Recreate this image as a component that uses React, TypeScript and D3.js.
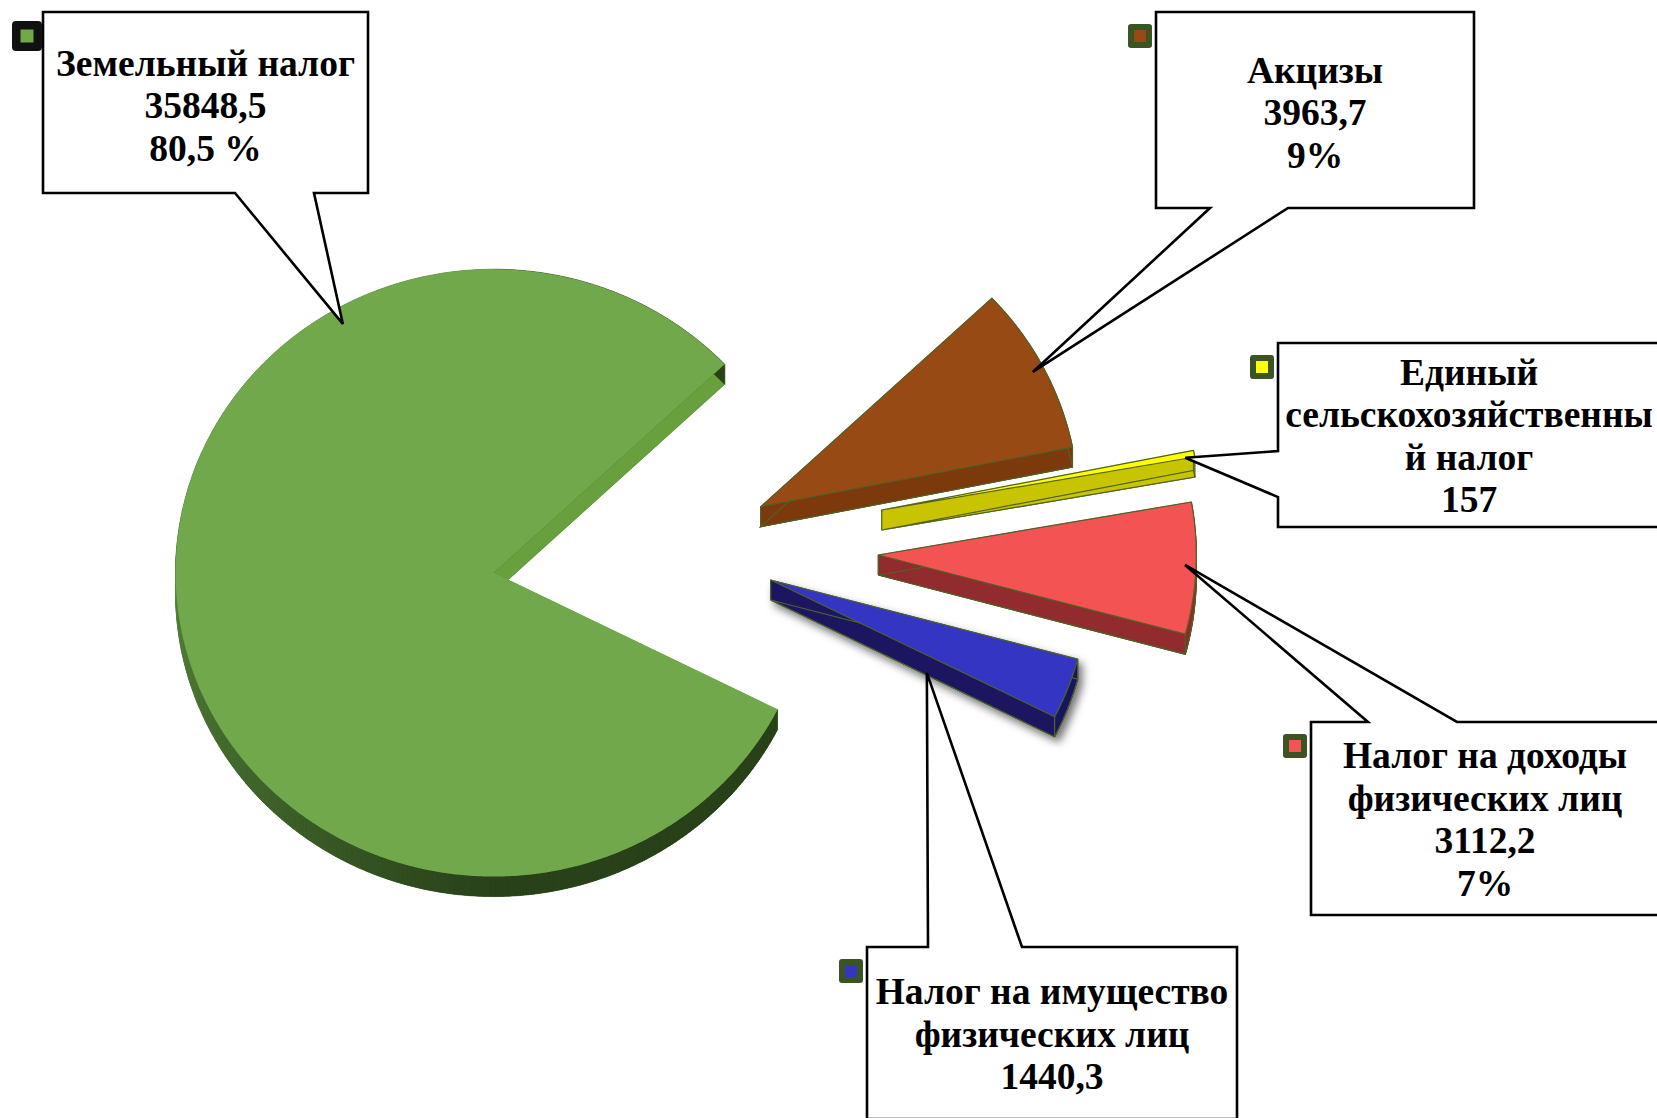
import React from 'react';
import * as d3 from 'd3';

// ---------- DATA ----------
const categories = [
  'Земельный налог',
  'Акцизы',
  'Единый сельскохозяйственный налог',
  'Налог на доходы физических лиц',
  'Налог на имущество физических лиц',
];
const values = [35848.5, 3963.7, 157, 3112.2, 1440.3];
const labelLines = [
  ['Земельный налог', '35848,5', '80,5 %'],
  ['Акцизы', '3963,7', '9%'],
  ['Единый', 'сельскохозяйственны', 'й налог', '157'],
  ['Налог на доходы', 'физических лиц', '3112,2', '7%'],
  ['Налог на имущество', 'физических лиц', '1440,3'],
];

// ---------- STYLE / LAYOUT ----------
const topColors = ['#70A84B', '#974A14', '#FFFF00', '#F35453', '#3535C4'];
const sideColors = ['#2C461C', '#7C390C', '#C8C400', '#922B2E', '#1A1960'];
const W = 1657;
const H = 1118;
const CX = 493.6;
const CY = 572.9;
const R = 318;
const TILT = 0.955;
const DEPTH = 20;
const ROT = (46.63 * Math.PI) / 180; // d3 angle where the first slice ends
const explode: [number, number][] = [[0, 0], [267.1, -66.2], [388.1, -62.9], [384.7, -17.9], [277.1, 7.1]];
// anchor of callout tip on slice: [angle fraction, radius fraction, depth fraction]
const anchors: [number, number, number][] = [
  [0.7355, 0.947, 0],
  [0.498, 0.964, 0],
  [0.88, 0.97, 0],
  [0.477, 0.965, 0],
  [1.0, 0.55, 0.885],
];
type Box = { x0: number; y0: number; x1: number; y1: number; side: string; gap: [number, number] };
const boxes: Box[] = [
  { x0: 43, y0: 12, x1: 368, y1: 193, side: 'bottom', gap: [235, 314] },
  { x0: 1156, y0: 12, x1: 1474, y1: 208, side: 'bottom', gap: [1210, 1288] },
  { x0: 1278, y0: 343, x1: 1660, y1: 527, side: 'left', gap: [451, 497] },
  { x0: 1311, y0: 722, x1: 1659, y1: 915, side: 'top', gap: [1368, 1457] },
  { x0: 867, y0: 947, x1: 1237, y1: 1119, side: 'top', gap: [928, 1022] },
];
const textShift = [2, 1.5, 0, 0, 0];
const FONT = 37.5;
const LH = 42.5;

type P = [number, number];

function pt(ax: number, ay: number, a: number, r: number): P {
  return [ax + r * Math.sin(a), ay - r * Math.cos(a) * TILT];
}

function boxPath(b: Box, tip: P) {
  const pts: P[] = [];
  pts.push([b.x0, b.y0]);
  if (b.side === 'top') pts.push([b.gap[0], b.y0], tip, [b.gap[1], b.y0]);
  pts.push([b.x1, b.y0]);
  pts.push([b.x1, b.y1]);
  if (b.side === 'bottom') pts.push([b.gap[1], b.y1], tip, [b.gap[0], b.y1]);
  pts.push([b.x0, b.y1]);
  if (b.side === 'left') pts.push([b.x0, b.gap[1]], tip, [b.x0, b.gap[0]]);
  return d3.line()(pts) + 'Z';
}

export default function App() {
  const total = d3.sum(values);
  const start = ROT - (2 * Math.PI * values[0]) / total;
  const pie = d3
    .pie<number>()
    .sort(null)
    .value((d) => d)
    .startAngle(start)
    .endAngle(start + 2 * Math.PI);
  const arcs = pie(values);
  const line = d3.line();
  const greenRim = d3.interpolateRgb('#55843A', '#29421A');

  const slices = arcs.map((a, i) => {
    const ax = CX + explode[i][0];
    const ay = CY + explode[i][1];
    const n = Math.max(2, Math.ceil((a.endAngle - a.startAngle) / ((0.5 * Math.PI) / 180)));
    const angs = d3.range(n + 1).map((k) => a.startAngle + ((a.endAngle - a.startAngle) * k) / n);
    const arcPts = angs.map((t) => pt(ax, ay, t, R));
    const apex: P = [ax, ay];
    const top: P[] = [apex, ...arcPts];
    const down = (p: P): P => [p[0], p[1] + DEPTH];
    const topD = line(top) + 'Z';
    const botD = line(top.map(down)) + 'Z';
    const sides: { d: string; c: string }[] = [];
    const gapCol = '#67A03C';
    const radial = [
      [apex, arcPts[0]],
      [arcPts[arcPts.length - 1], apex],
    ];
    radial.forEach(([p, q]) => {
      sides.push({ d: line([p, q, down(q), down(p)]) + 'Z', c: i === 0 ? gapCol : sideColors[i] });
    });
    for (let k = 0; k < arcPts.length - 1; k++) {
      const p = arcPts[k];
      const q = arcPts[k + 1];
      let c = sideColors[i];
      if (i === 0) {
        let dg = (((angs[k] + angs[k + 1]) / 2) * 180) / Math.PI;
        dg = ((dg % 360) + 360) % 360;
        const t = Math.max(0, Math.min(1, (270 - dg) / 90));
        c = greenRim(t);
      }
      sides.push({ d: line([p, q, down(q), down(p)]) + 'Z', c });
    }
    const corners = [apex, arcPts[0], arcPts[arcPts.length - 1]];
    const af = anchors[i];
    const ta = a.startAngle + af[0] * (a.endAngle - a.startAngle);
    const tp = pt(ax, ay, ta, af[1] * R);
    const tip: P = [tp[0], tp[1] + af[2] * DEPTH];
    return { i, topD, botD, sides, corners, tip };
  });

  const edge = '#4F6228';

  return (
    <svg
      width={W}
      height={H}
      viewBox={`0 0 ${W} ${H}`}
      style={{ position: 'absolute', left: 0, top: 0, background: '#fff' }}
      fontFamily="'Liberation Serif', 'Times New Roman', serif"
    >
      <defs>
        <filter id="shadow" x="-20%" y="-20%" width="140%" height="160%">
          <feDropShadow dx="4" dy="5" stdDeviation="4" floodColor="#000" floodOpacity="0.55" />
        </filter>
      </defs>
      <rect width={W} height={H} fill="#fff" />
      {slices.map((s) => {
        const stroke = s.i === 0 ? 'none' : edge;
        return (
          <g key={categories[s.i]} filter={s.i === 4 ? 'url(#shadow)' : undefined}>
            <path d={s.botD} fill={s.i === 0 ? '#2C461C' : sideColors[s.i]} stroke={stroke} strokeWidth={1.2} />
            {s.sides.map((sd, k) => (
              <path key={k} d={sd.d} fill={sd.c} stroke={sd.c} strokeWidth={0.6} />
            ))}
            <path d={s.botD} fill="none" stroke={stroke} strokeWidth={1.2} />
            {s.i !== 0 &&
              s.corners.map((c, k) => (
                <line key={k} x1={c[0]} y1={c[1]} x2={c[0]} y2={c[1] + DEPTH} stroke={edge} strokeWidth={1.2} />
              ))}
            <path d={s.topD} fill={topColors[s.i]} stroke={stroke} strokeWidth={1.2} strokeLinejoin="round" />
          </g>
        );
      })}
      {boxes.map((b, i) => {
        const lines = labelLines[i];
        const cx = (b.x0 + b.x1) / 2;
        const cy = (b.y0 + b.y1) / 2;
        const big = i === 0;
        const ms = big ? 30 : 24;
        const mcx = b.x0 - 16;
        const mcy = b.y0 + 24;
        return (
          <g key={'box' + i}>
            <path d={boxPath(b, slices[i].tip)} fill="#fff" stroke="#000" strokeWidth={2.6} strokeLinejoin="miter" />
            {lines.map((t, k) => (
              <text
                key={k}
                x={cx}
                y={cy + 13.5 + textShift[i] + (k - (lines.length - 1) / 2) * LH}
                textAnchor="middle"
                fontSize={FONT}
                fontWeight="bold"
                fill="#000"
              >
                {t}
              </text>
            ))}
            <rect
              x={mcx - ms / 2}
              y={mcy - ms / 2}
              width={ms}
              height={ms}
              rx={big ? 4 : 3}
              fill={big ? '#111' : '#3A5423'}
            />
            <rect
              x={mcx - (big ? 6.5 : 6)}
              y={mcy - (big ? 6.5 : 6)}
              width={big ? 13 : 12}
              height={big ? 13 : 12}
              fill={topColors[i]}
            />
          </g>
        );
      })}
    </svg>
  );
}
